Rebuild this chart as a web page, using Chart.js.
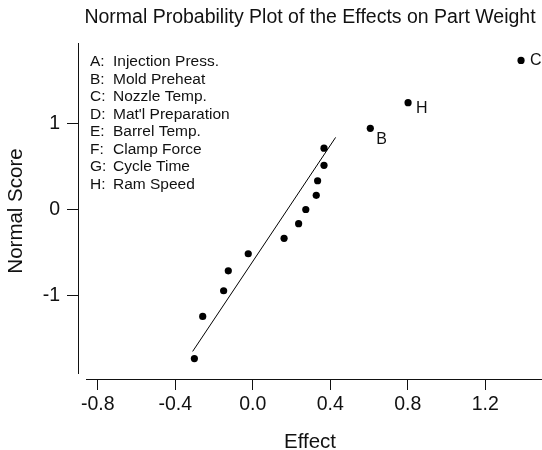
<!DOCTYPE html>
<html>
<head>
<meta charset="utf-8">
<script src="https://cdn.jsdelivr.net/npm/chart.js@4"></script>
<style>
  html, body { margin: 0; padding: 0; background: #fff; }
  #wrap { width: 542px; height: 450px; }
</style>
</head>
<body>
<div id="wrap"><canvas id="c" width="542" height="450"></canvas></div>
<script>
// ---- data ----
const effectValues = [-0.301, -0.258, -0.150, -0.126, -0.023, 0.162, 0.237, 0.274, 0.328, 0.335, 0.368, 0.368, 0.607, 0.802, 1.385];
const normalScores = [-1.736, -1.245, -0.946, -0.714, -0.515, -0.335, -0.165, 0, 0.165, 0.335, 0.515, 0.714, 0.946, 1.245, 1.736];
const pointLabels  = ['', '', '', '', '', '', '', '', '', '', '', '', 'B', 'H', 'C'];
const fitLineX = [-0.310, 0.428];
const fitLineY = [-1.653, 0.840];
const xTickValues = [-0.8, -0.4, 0.0, 0.4, 0.8, 1.2];
const yTickValues = [-1, 0, 1];
const factorLetters = ['A:', 'B:', 'C:', 'D:', 'E:', 'F:', 'G:', 'H:'];
const factorNames = ['Injection Press.', 'Mold Preheat', 'Nozzle Temp.', "Mat'l Preparation", 'Barrel Temp.', 'Clamp Force', 'Cycle Time', 'Ram Speed'];

const FONT = "'Liberation Sans', Arial, sans-serif";
const INK = '#111';

const scatterData = effectValues.map((x, i) => ({ x: x, y: normalScores[i] }));
const lineData = fitLineX.map((x, i) => ({ x: x, y: fitLineY[i] }));

const decorPlugin = {
  id: 'decor',
  afterDatasetsDraw(chart) {
    const ctx = chart.ctx;
    const ca = chart.chartArea;
    ctx.save();
    // range-frame axis lines
    ctx.strokeStyle = INK;
    ctx.lineWidth = 1;
    ctx.beginPath();
    const xl = Math.round(ca.left) + 0.5;
    ctx.moveTo(xl, Math.round(ca.top));
    ctx.lineTo(xl, Math.round(ca.bottom) - 5);
    const yb = Math.round(ca.bottom) + 0.5;
    ctx.moveTo(Math.round(ca.left) + 8, yb);
    ctx.lineTo(Math.round(ca.right), yb);
    ctx.stroke();

    // legend text block
    ctx.fillStyle = INK;
    ctx.font = "15.5px " + FONT;
    ctx.textBaseline = 'middle';
    ctx.textAlign = 'left';
    factorLetters.forEach((l, i) => {
      const y = 62 + i * 17.5;
      ctx.fillText(l, 90, y);
      ctx.fillText(factorNames[i], 113, y);
    });

    // point labels
    const offsets = { B: [6, 11], H: [8, 6], C: [9, 0] };
    ctx.font = "16px " + FONT;
    const meta = chart.getDatasetMeta(0);
    meta.data.forEach((pt, i) => {
      const t = pointLabels[i];
      if (!t) return;
      const o = offsets[t] || [6, 0];
      ctx.fillText(t, pt.x + o[0], pt.y + o[1]);
    });
    ctx.restore();
  }
};

new Chart(document.getElementById('c'), {
  type: 'scatter',
  data: {
    datasets: [
      {
        data: scatterData,
        backgroundColor: '#000',
        borderWidth: 0,
        pointRadius: 3.6,
        pointHoverRadius: 3.6,
        clip: false
      },
      {
        type: 'line',
        data: lineData,
        borderColor: '#000',
        borderWidth: 1,
        pointRadius: 0,
        showLine: true,
        fill: false
      }
    ]
  },
  options: {
    responsive: false,
    animation: false,
    events: [],
    layout: { autoPadding: false, padding: { top: 0, left: 0, right: 0, bottom: 0 } },
    plugins: {
      legend: { display: false },
      tooltip: { enabled: false },
      title: {
        display: true,
        fullSize: false,
        text: 'Normal Probability Plot of the Effects on Part Weight',
        color: INK,
        font: { family: FONT, size: 19.5, weight: 'normal', lineHeight: 1.2 },
        padding: { top: 6, bottom: 13.6 }
      }
    },
    scales: {
      x: {
        type: 'linear',
        min: -0.9017,
        max: 1.4932,
        afterFit(s) { s.height = 71; },
        afterBuildTicks(s) { s.ticks = xTickValues.map(v => ({ value: v })); },
        border: { display: false },
        grid: { drawOnChartArea: false, drawTicks: true, tickLength: 11, color: INK, lineWidth: 1 },
        ticks: {
          color: INK,
          padding: 3,
          maxRotation: 0,
          autoSkip: false,
          font: { family: FONT, size: 19.5 },
          callback: v => Number(v).toFixed(1)
        },
        title: {
          display: true,
          text: 'Effect',
          color: INK,
          font: { family: FONT, size: 20.5, lineHeight: 0.75 },
          padding: { top: 0, bottom: 0 }
        }
      },
      y: {
        type: 'linear',
        min: -1.974,
        max: 1.9395,
        afterFit(s) { s.width = 78; },
        afterBuildTicks(s) { s.ticks = yTickValues.map(v => ({ value: v })); },
        border: { display: false },
        grid: { drawOnChartArea: false, drawTicks: true, tickLength: 11, color: INK, lineWidth: 1 },
        ticks: {
          color: INK,
          padding: 7,
          autoSkip: false,
          font: { family: FONT, size: 19.5 },
          callback: v => String(v)
        },
        title: {
          display: true,
          text: 'Normal Score',
          color: INK,
          font: { family: FONT, size: 20.5, lineHeight: 1.2 },
          padding: { top: 4, bottom: 0 }
        }
      }
    }
  },
  plugins: [decorPlugin]
});
</script>
</body>
</html>
